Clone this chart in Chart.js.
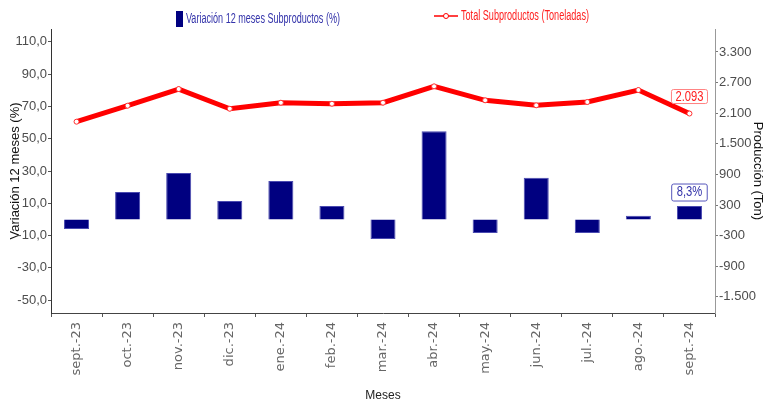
<!DOCTYPE html>
<html>
<head>
<meta charset="utf-8">
<script src="https://cdn.jsdelivr.net/npm/chart.js@4/dist/chart.umd.min.js"></script>
<style>
html,body{margin:0;padding:0;background:#fff;}
#wrap{width:765px;height:404px;position:relative;}
</style>
</head>
<body>
<div id="wrap"><canvas id="c"></canvas></div>
<script>
const categories = ['sept.-23','oct.-23','nov.-23','dic.-23','ene.-24','feb.-24','mar.-24','abr.-24','may.-24','jun.-24','jul.-24','ago.-24','sept.-24'];
const variacion = [-5.9, 17.0, 28.7, 11.4, 23.8, 8.3, -12.1, 54.7, -8.4, 25.8, -8.4, 2.3, 8.3];
const produccion = [1933, 2246, 2573, 2187, 2305, 2285, 2305, 2626, 2352, 2254, 2319, 2554, 2093];
const leftTicks = [-50, -30, -10, 10, 30, 50, 70, 90, 110];
const rightTicks = [-1500, -900, -300, 300, 900, 1500, 2100, 2700, 3300];
const barLabel = 'Variación 12 meses Subproductos (%)';
const lineLabel = 'Total Subproductos (Toneladas)';

const SANS = '"Liberation Sans", Arial, sans-serif';

function fmtThousands(v){
  const s = Math.abs(Math.round(v)).toString().replace(/\B(?=(\d{3})+(?!\d))/g, '.');
  return (v < 0 ? '-' : '') + s;
}
function fmtDec(v){ return v.toFixed(1).replace('.', ','); }

function roundRect(ctx, x, y, w, h, r){
  ctx.beginPath();
  ctx.moveTo(x+r, y);
  ctx.lineTo(x+w-r, y); ctx.quadraticCurveTo(x+w, y, x+w, y+r);
  ctx.lineTo(x+w, y+h-r); ctx.quadraticCurveTo(x+w, y+h, x+w-r, y+h);
  ctx.lineTo(x+r, y+h); ctx.quadraticCurveTo(x, y+h, x, y+h-r);
  ctx.lineTo(x, y+r); ctx.quadraticCurveTo(x, y, x+r, y);
  ctx.closePath();
}
// draw condensed text (horizontal squeeze) anchored at x with given align
function narrowText(ctx, txt, x, y, sx, align){
  const w = ctx.measureText(txt).width * sx;
  let left = x;
  if (align === 'center') left = x - w/2;
  else if (align === 'right') left = x - w;
  ctx.save();
  ctx.textAlign = 'left';
  ctx.translate(left, y);
  ctx.scale(sx, 1);
  ctx.fillText(txt, 0, 0);
  ctx.restore();
  return w;
}

const overlay = {
  id: 'overlay',
  afterDraw(chart){
    const ctx = chart.ctx;
    ctx.save();
    // Legend
    ctx.font = '14px ' + SANS;
    ctx.textBaseline = 'middle';
    ctx.fillStyle = '#000080';
    ctx.fillRect(176, 11, 7, 16);
    ctx.fillStyle = '#3333aa';
    let sx = 154 / ctx.measureText(barLabel).width;
    narrowText(ctx, barLabel, 186, 19, sx, 'left');
    ctx.strokeStyle = '#ff0000';
    ctx.lineWidth = 1.5;
    ctx.beginPath(); ctx.moveTo(434, 16); ctx.lineTo(458, 16); ctx.stroke();
    ctx.fillStyle = '#fff';
    ctx.lineWidth = 1;
    ctx.beginPath(); ctx.arc(446, 16, 2.5, 0, Math.PI*2); ctx.fill(); ctx.stroke();
    ctx.fillStyle = '#ff2020';
    sx = 128 / ctx.measureText(lineLabel).width;
    narrowText(ctx, lineLabel, 461, 16, sx, 'left');

    // Data labels on last points
    const li = categories.length - 1;
    const pt = chart.getDatasetMeta(1).data[li];
    const br = chart.getDatasetMeta(0).data[li];
    ctx.font = '14px ' + SANS;
    const sq = 0.8;
    // line label
    let txt = fmtThousands(produccion[li]);
    let w = ctx.measureText(txt).width * sq + 8;
    let cx = pt.x, cy = pt.y - 17;
    roundRect(ctx, cx - w/2, cy - 7, w, 14, 2);
    ctx.fillStyle = '#fff'; ctx.fill();
    ctx.strokeStyle = '#ff8080'; ctx.lineWidth = 1; ctx.stroke();
    ctx.fillStyle = '#ff2020'; narrowText(ctx, txt, cx, cy + 0.5, sq, 'center');
    // bar label
    txt = fmtDec(variacion[li]) + '%';
    w = ctx.measureText(txt).width * sq + 10;
    cx = br.x; cy = br.y - 14;
    roundRect(ctx, cx - w/2, cy - 8, w, 17, 2);
    ctx.fillStyle = '#fff'; ctx.fill();
    ctx.strokeStyle = '#5555bb'; ctx.lineWidth = 1; ctx.stroke();
    ctx.fillStyle = '#3333aa'; narrowText(ctx, txt, cx, cy + 0.5, sq, 'center');
    ctx.restore();
  }
};

new Chart(document.getElementById('c'), {
  data: {
    labels: categories,
    datasets: [
      {
        type: 'bar',
        label: barLabel,
        data: variacion,
        yAxisID: 'y',
        backgroundColor: '#000080',
        borderColor: '#4a4ab0',
        borderWidth: 1,
        categoryPercentage: 1,
        barPercentage: 0.49,
        order: 2
      },
      {
        type: 'line',
        label: lineLabel,
        data: produccion,
        yAxisID: 'y2',
        borderColor: '#ff0000',
        borderWidth: 5,
        pointRadius: 2.5,
        pointBackgroundColor: '#ffffff',
        pointBorderColor: '#ff3030',
        pointBorderWidth: 1,
        tension: 0,
        order: 1
      }
    ]
  },
  options: {
    responsive: true,
    maintainAspectRatio: false,
    animation: false,
    layout: { padding: { top: 29, left: 0, right: 0, bottom: 0 } },
    plugins: { legend: { display: false }, tooltip: { enabled: false } },
    scales: {
      x: {
        offset: true,
        grid: { display: true, drawOnChartArea: false, drawTicks: true, tickLength: 4, color: '#555' },
        border: { display: true, color: '#444', width: 1 },
        ticks: { maxRotation: 90, minRotation: 90, autoSkip: false, padding: 5, color: '#666', font: { family: '"DejaVu Sans", sans-serif', size: 13 } },
        title: { display: true, text: 'Meses', color: '#222', font: { family: SANS, size: 12 }, padding: { top: 0, bottom: 1 } },
        afterFit(s){ s.height = 91; }
      },
      y: {
        position: 'left',
        min: -58, max: 118,
        afterBuildTicks(s){ s.ticks = leftTicks.map(v => ({ value: v })); },
        grid: { display: true, drawOnChartArea: false, drawTicks: true, tickLength: 3, color: '#555' },
        border: { display: true, color: '#333', width: 1 },
        ticks: { padding: 1, color: '#4d4d4d', font: { family: SANS, size: 13 }, callback: v => fmtDec(v) },
        title: { display: true, text: 'Variación 12 meses (%)', color: '#111', font: { family: SANS, size: 13 }, padding: { top: 8, bottom: 0 } },
        afterFit(s){ s.width = 51; }
      },
      y2: {
        position: 'right',
        min: -1817, max: 3750,
        afterBuildTicks(s){ s.ticks = rightTicks.map(v => ({ value: v })); },
        grid: { display: true, drawOnChartArea: false, drawTicks: true, tickLength: 3, color: '#777' },
        border: { display: true, color: '#999', width: 1 },
        ticks: { padding: 1, color: '#4d4d4d', font: { family: SANS, size: 13 }, callback: v => fmtThousands(v) },
        title: { display: true, text: 'Producción (Ton)', color: '#111', font: { family: SANS, size: 13 }, padding: { top: 0, bottom: 3 } },
        afterFit(s){ s.width = 50; }
      }
    }
  },
  plugins: [overlay]
});
</script>
</body>
</html>
